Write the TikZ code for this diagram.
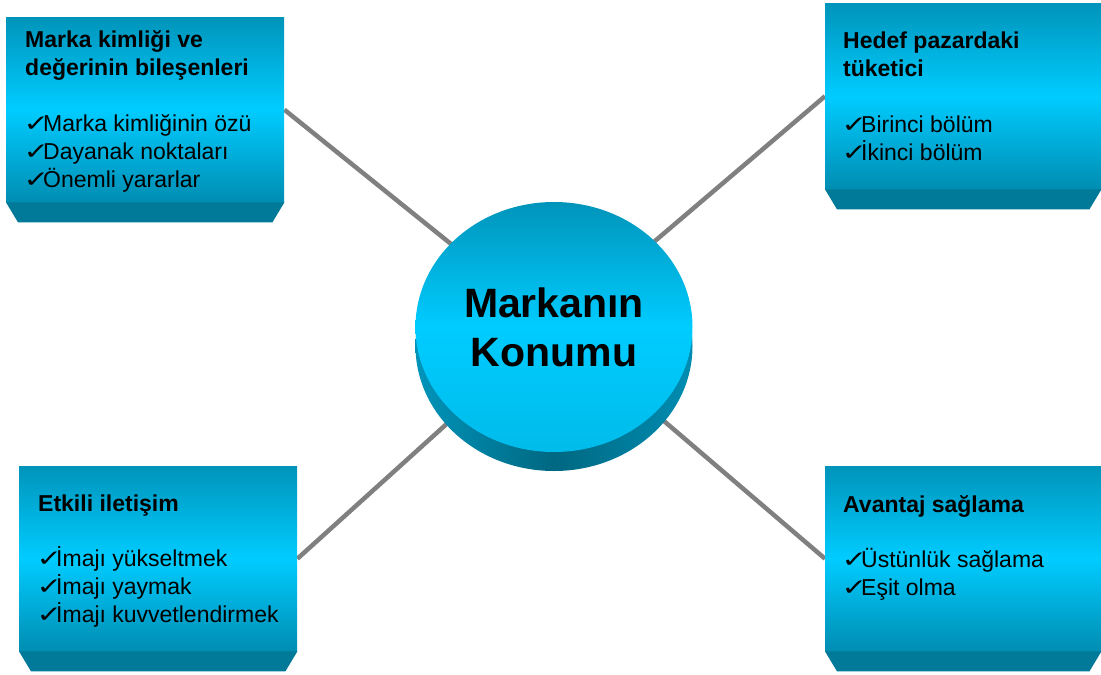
\documentclass[tikz,border=0pt]{standalone}
\usepackage{fontspec}
\usepackage{graphicx}
\setmainfont{Liberation Sans}
\newfontfamily\chk{DejaVu Sans}
\usetikzlibrary{positioning}
\usetikzlibrary{shapes.geometric}
\usetikzlibrary{backgrounds}
\usetikzlibrary{calc}
\definecolor{koyu}{HTML}{0094BA}
\definecolor{acik}{HTML}{00CCFF}
\definecolor{alt}{HTML}{008DB2}
\definecolor{pahrenk}{HTML}{007A98}
\definecolor{cizgi}{HTML}{808080}
\newcommand{\tik}{\makebox[18pt][l]{\hspace{-1.5pt}\scalebox{1.45}[1.1]{\chk\fontsize{21}{28}\selectfont ✓}}}
\tikzset{
    kutu/.style={rectangle,anchor=north west,inner sep=0pt,minimum width=278pt,minimum height=185pt,top color=koyu,bottom color=alt,middle color=acik},
    pahli/.style={fill=pahrenk},
    yazi/.style={anchor=north west,align=left,inner sep=0pt,font=\fontsize{23}{28}\selectfont},
    baglanti/.style={draw=cizgi,line width=4.5pt},
    disk/.style={ellipse,inner sep=0pt,minimum width=277pt,minimum height=250pt,top color=koyu,bottom color=acik!70!koyu,middle color=acik,align=center,font=\bfseries\fontsize{41}{49}\selectfont},
    yan/.style={ellipse,inner sep=0pt,minimum width=277pt,minimum height=250pt,left color=koyu,right color=alt,middle color=pahrenk!85!black}
}
\begin{document}
\begin{tikzpicture}[x=1pt,y=-1pt]
    \useasboundingbox (0,0) rectangle (1101,675);

    \node[kutu] (kimlik) at (6,17) {};
    \node[kutu,minimum width=276pt,minimum height=186pt] (hedef) at (825,3) {};
    \node[kutu] (iletisim) at (19,466) {};
    \node[kutu,minimum width=276pt] (avantaj) at (825,466) {};
    \foreach \k in {kimlik,hedef,iletisim,avantaj}
        \fill[pahli] (\k.south west) -- (\k.south east) -- ($(\k.south east)+(-12,20)$) -- ($(\k.south west)+(12,20)$) -- cycle;

    \node[yan] (taban) at (554,346) {};
    \node[disk] (konum) at (554,327) {Markanın\\Konumu};

    \begin{pgfonlayer}{background}
        \draw[baglanti] (kimlik.east) -- (konum.center);
        \draw[baglanti] (iletisim.east) -- (konum.center);
        \draw[baglanti] (hedef.west) -- (konum.center);
        \draw[baglanti] (avantaj.west) -- (konum.center);
    \end{pgfonlayer}

    \node[yazi] (t1) at (25,30) {\textbf{Marka kimliği ve}\\\textbf{değerinin bileşenleri}\\[28pt]\tik Marka kimliğinin özü\\\tik Dayanak noktaları\\\tik Önemli yararlar};
    \node[yazi] (t2) at (843,32) {\textbf{Hedef pazardaki}\\\textbf{tüketici}\\[28pt]\tik Birinci bölüm\\\tik İkinci bölüm};
    \node[yazi] (t3) at (38,495) {\textbf{Etkili iletişim}\\[27pt]\tik İmajı yükseltmek\\\tik İmajı yaymak\\\tik İmajı kuvvetlendirmek};
    \node[yazi] (t4) at (843,495) {\textbf{Avantaj sağlama}\\[27pt]\tik Üstünlük sağlama\\\tik Eşit olma};
\end{tikzpicture}
\end{document}
